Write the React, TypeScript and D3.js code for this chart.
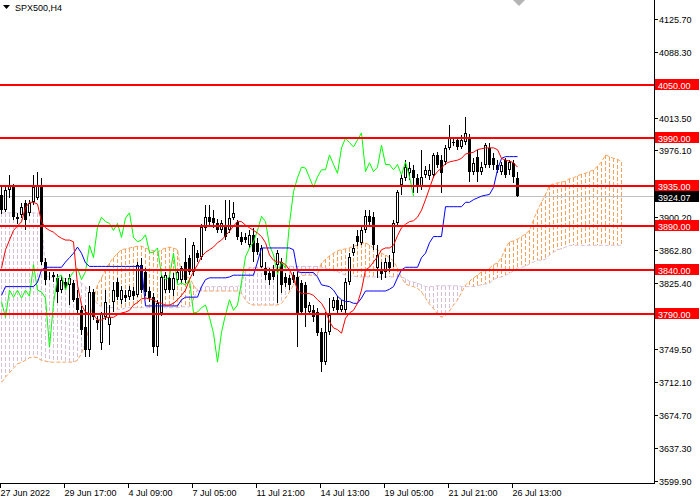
import * as d3 from 'd3';

// SPX500 H4 candles (index = bar number, 4px per bar)
const opens = [
  3925, 3908, 3931, 3934, 3900, 3903, 3916, 3905, 3917, 3922,
  3937, 3849, 3833, 3834, 3831, 3817, 3826, 3823, 3825, 3808,
  3794, 3775, 3749, 3815, 3783, 3757, 3786, 3777, 3804, 3826,
  3806, 3811, 3809, 3816, 3811, 3846, 3838, 3816, 3809, 3752,
  3791, 3817, 3831, 3817, 3829, 3829, 3849, 3854, 3838, 3859,
  3855, 3888, 3900, 3899, 3893, 3885, 3891, 3885, 3899, 3895,
  3877, 3877, 3868, 3880, 3871, 3843, 3842, 3836, 3840, 3846,
  3849, 3832, 3831, 3834, 3832, 3825, 3823, 3792, 3794, 3792,
  3769, 3735, 3769, 3797, 3806, 3794, 3794, 3826, 3859, 3879,
  3871, 3885, 3901, 3900, 3842, 3840, 3838, 3849, 3859, 3893,
  3937, 3945, 3950, 3954, 3945, 3934, 3948, 3947, 3948, 3971,
  3965, 3963, 3979, 3986, 3988, 3980, 3986, 3991, 3952, 3969,
  3952, 3960, 3979, 3967, 3960, 3952, 3965, 3954, 3962, 3945,
];
const closes = [
  3908, 3931, 3936, 3900, 3898, 3912, 3897, 3916, 3934, 3937,
  3849, 3829, 3834, 3832, 3815, 3829, 3821, 3831, 3806, 3794,
  3772, 3749, 3815, 3786, 3780, 3791, 3804, 3786, 3817, 3809,
  3817, 3808, 3817, 3810, 3846, 3817, 3815, 3808, 3752, 3802,
  3832, 3834, 3817, 3831, 3838, 3842, 3829, 3838, 3868, 3854,
  3889, 3900, 3895, 3893, 3885, 3893, 3877, 3899, 3905, 3877,
  3872, 3874, 3880, 3860, 3860, 3865, 3834, 3829, 3832, 3859,
  3823, 3825, 3823, 3829, 3791, 3792, 3797, 3800, 3786, 3768,
  3735, 3769, 3789, 3806, 3794, 3800, 3826, 3855, 3865, 3872,
  3885, 3901, 3895, 3868, 3857, 3835, 3849, 3842, 3893, 3929,
  3945, 3957, 3956, 3945, 3934, 3946, 3954, 3954, 3971, 3960,
  3950, 3979, 3990, 3985, 3980, 3988, 3996, 3952, 3962, 3952,
  3957, 3982, 3960, 3960, 3954, 3960, 3948, 3963, 3946, 3924.07,
];
const highs = [
  3937, 3937, 3948, 3938, 3905, 3916, 3920, 3920, 3948, 3952,
  3945, 3854, 3838, 3838, 3835, 3833, 3831, 3835, 3829, 3817,
  3799, 3800, 3822, 3818, 3788, 3792, 3817, 3800, 3826, 3831,
  3822, 3817, 3822, 3821, 3849, 3854, 3842, 3821, 3814, 3806,
  3834, 3838, 3834, 3837, 3840, 3845, 3876, 3857, 3872, 3863,
  3892, 3914, 3914, 3908, 3898, 3897, 3920, 3920, 3917, 3897,
  3883, 3882, 3885, 3888, 3876, 3868, 3849, 3842, 3846, 3863,
  3854, 3837, 3834, 3838, 3838, 3829, 3826, 3803, 3800, 3797,
  3774, 3792, 3808, 3809, 3810, 3806, 3831, 3859, 3870, 3885,
  3890, 3908, 3908, 3906, 3868, 3849, 3854, 3857, 3897, 3931,
  3948, 3965, 3963, 3960, 3949, 3977, 3958, 3961, 3973, 3974,
  3971, 3982, 4005, 3990, 3991, 3994, 4014, 3995, 3967, 3977,
  3963, 3985, 3985, 3973, 3965, 3963, 3967, 3965, 3965, 3952,
];
const lows = [
  3904, 3906, 3922, 3897, 3892, 3899, 3885, 3901, 3914, 3920,
  3846, 3823, 3829, 3826, 3802, 3814, 3817, 3800, 3804, 3789,
  3766, 3741, 3741, 3783, 3772, 3749, 3783, 3755, 3792, 3806,
  3801, 3804, 3806, 3806, 3809, 3814, 3810, 3804, 3745, 3742,
  3788, 3814, 3814, 3810, 3825, 3825, 3825, 3834, 3833, 3849,
  3851, 3884, 3891, 3888, 3882, 3882, 3874, 3882, 3897, 3874,
  3868, 3871, 3865, 3849, 3857, 3842, 3829, 3823, 3829, 3802,
  3814, 3821, 3817, 3825, 3752, 3789, 3775, 3789, 3781, 3765,
  3724, 3732, 3766, 3793, 3791, 3792, 3791, 3823, 3856, 3867,
  3868, 3882, 3890, 3863, 3831, 3829, 3831, 3838, 3843, 3890,
  3925, 3941, 3942, 3928, 3928, 3931, 3945, 3942, 3945, 3956,
  3928, 3960, 3977, 3981, 3977, 3978, 3982, 3940, 3948, 3940,
  3948, 3956, 3956, 3954, 3950, 3948, 3945, 3948, 3939, 3923,
];

// Ichimoku lines
const tenkan = [
  3842, 3863, 3874, 3885, 3890, 3895, 3911, 3917, 3917, 3915,
  3895, 3888, 3885, 3883, 3879, 3876, 3874, 3874, 3872, 3823,
  3800, 3792, 3790, 3789, 3783, 3783, 3786, 3786, 3786, 3789,
  3791, 3792, 3794, 3800, 3803, 3807, 3808, 3807, 3806, 3803,
  3802, 3800, 3800, 3802, 3806, 3811, 3817, 3829, 3838, 3846,
  3855, 3860, 3863, 3866, 3871, 3874, 3879, 3884, 3890, 3895,
  3895, 3891, 3888, 3885, 3882, 3878, 3871, 3857, 3851, 3849,
  3849, 3846, 3840, 3831, 3817, 3813, 3813, 3813, 3811, 3806,
  3802, 3794, 3781, 3774, 3772, 3768, 3785, 3791, 3794, 3802,
  3817, 3840, 3843, 3849, 3855, 3863, 3865, 3865, 3868, 3879,
  3888, 3892, 3895, 3896, 3900, 3908, 3920, 3933, 3946, 3952,
  3956, 3961, 3963, 3964, 3965, 3967, 3972, 3973, 3974, 3977,
  3978, 3979, 3979, 3979, 3977, 3967, 3965, 3964, 3962, 3957,
];
const kijun = [
  3811, 3821, 3821, 3821, 3821, 3821, 3821, 3821, 3821, 3826,
  3840, 3843, 3843, 3843, 3843, 3843, 3849, 3854, 3859, 3866,
  3859, 3848, 3844, 3844, 3844, 3844, 3844, 3844, 3844, 3844,
  3844, 3844, 3844, 3844, 3844, 3844, 3799, 3799, 3799, 3799,
  3799, 3799, 3799, 3799, 3799, 3806, 3809, 3809, 3809, 3809,
  3821, 3829, 3831, 3831, 3831, 3831, 3831, 3832, 3834, 3834,
  3834, 3834, 3834, 3834, 3849, 3865, 3865, 3865, 3865, 3865,
  3865, 3865, 3865, 3863, 3838, 3837, 3837, 3837, 3837, 3832,
  3823, 3822, 3821, 3817, 3810, 3806, 3804, 3804, 3802, 3802,
  3808, 3816, 3816, 3816, 3816, 3816, 3816, 3818, 3821, 3831,
  3840, 3843, 3843, 3843, 3843, 3854, 3859, 3871, 3878, 3878,
  3878, 3912, 3912, 3912, 3912, 3912, 3917, 3917, 3920, 3922,
  3924, 3925, 3926, 3934, 3954, 3967, 3969, 3969, 3969, 3969,
];
// Senkou spans, already shifted 26 bars forward (156 bars)
const spanA = [
  3712, 3718, 3723, 3728, 3733, 3735, 3737, 3740, 3741, 3740,
  3737, 3736, 3735, 3735, 3735, 3735, 3735, 3735, 3735, 3737,
  3745, 3757, 3777, 3806, 3823, 3831, 3840, 3848, 3854, 3859,
  3863, 3864, 3865, 3866, 3867, 3867, 3865, 3863, 3862, 3860,
  3863, 3865, 3866, 3865, 3863, 3834, 3832, 3831, 3823, 3816,
  3816, 3816, 3816, 3816, 3816, 3816, 3816, 3816, 3816, 3816,
  3813, 3806, 3801, 3800, 3800, 3800, 3800, 3800, 3800, 3800,
  3802, 3808, 3815, 3823, 3831, 3834, 3834, 3834, 3834, 3834,
  3848, 3852, 3856, 3859, 3862, 3863, 3864, 3865, 3867, 3868,
  3870, 3871, 3868, 3865, 3863, 3859, 3857, 3854, 3850, 3842,
  3831, 3824, 3822, 3821, 3819, 3815, 3808, 3801, 3796, 3790,
  3786, 3788, 3793, 3800, 3806, 3814, 3823, 3827, 3831, 3834,
  3838, 3840, 3842, 3846, 3848, 3854, 3865, 3872, 3873, 3875,
  3878, 3881, 3885, 3897, 3908, 3917, 3926, 3936, 3938, 3939,
  3940, 3941, 3944, 3945, 3947, 3949, 3950, 3952, 3954, 3958,
  3963, 3971, 3969, 3967, 3966, 3963,
];
const spanB = [
  3905, 3905, 3905, 3905, 3905, 3905, 3905, 3905, 3905, 3905,
  3904, 3833, 3832, 3831, 3831, 3831, 3830, 3829, 3829, 3827,
  3825, 3821, 3815, 3808, 3801, 3798, 3797, 3797, 3797, 3795,
  3795, 3797, 3797, 3797, 3797, 3797, 3797, 3797, 3797, 3797,
  3797, 3797, 3797, 3797, 3797, 3798, 3798, 3798, 3806, 3818,
  3821, 3821, 3821, 3821, 3821, 3821, 3821, 3821, 3821, 3821,
  3824, 3839, 3843, 3843, 3843, 3843, 3843, 3843, 3843, 3843,
  3843, 3843, 3844, 3844, 3844, 3844, 3844, 3844, 3844, 3844,
  3843, 3842, 3840, 3839, 3838, 3836, 3834, 3833, 3833, 3832,
  3832, 3832, 3832, 3832, 3832, 3832, 3832, 3832, 3832, 3832,
  3832, 3830, 3827, 3826, 3825, 3823, 3821, 3821, 3821, 3822,
  3822, 3822, 3822, 3822, 3822, 3821, 3821, 3821, 3821, 3822,
  3823, 3824, 3825, 3829, 3831, 3832, 3834, 3836, 3839, 3842,
  3843, 3844, 3847, 3849, 3851, 3851, 3852, 3857, 3860, 3863,
  3864, 3866, 3868, 3868, 3868, 3868, 3868, 3868, 3868, 3868,
  3868, 3868, 3868, 3868, 3868, 3868,
];

const levels = [4050, 3990, 3935, 3890, 3840, 3790];
const bid = 3924.07;
const priceTicks = [
  4125.7, 4088.3, 4050.9, 4013.5, 3976.1, 3938.7, 3900.2, 3862.8,
  3825.4, 3787.9, 3749.5, 3712.1, 3674.7, 3637.3, 3599.9,
];
// ticks whose text is hidden behind the level labels
const hiddenTickLabels = [4050.9, 3938.7, 3787.9];
const timeLabels = [
  '27 Jun 2022', '29 Jun 17:00', '4 Jul 09:00', '7 Jul 05:00', '11 Jul 21:00',
  '14 Jul 13:00', '19 Jul 05:00', '21 Jul 21:00', '26 Jul 13:00',
];
const timeLabelBars = [0, 16, 32, 48, 64, 80, 96, 112, 128];

const CHIKOU_SHIFT = 26;
const PLOT_R = 654;
const PLOT_B = 483;
const FONT = '"Liberation Sans", Arial, sans-serif';
const SANDY = '#F4A460';
const THISTLE = '#D8BFD8';

export default function App() {
  // 4 px per bar, bar centres on half pixels
  const x = d3.scaleLinear().domain([0, 1]).range([1.5, 5.5]);
  const y = d3.scaleLinear().domain([3599.9, 4125.7]).range([480.8, 19]);
  const ry = (v: number) => Math.round(y(v));

  const line = d3
    .line<number>()
    .x((_, i) => x(i))
    .y((d) => y(d));

  const chikou = closes.slice(CHIKOU_SHIFT);

  // dotted histogram between the spans, one column per bar
  const hatch: { x: number; y: number; h: number; c: string }[] = [];
  spanA.forEach((a, i) => {
    const b = spanB[i];
    const top = ry(Math.max(a, b));
    const bot = ry(Math.min(a, b));
    const c = a >= b ? SANDY : THISTLE;
    for (let yy = top; yy < bot; yy += 6) {
      hatch.push({ x: Math.floor(x(i)), y: yy, h: Math.min(4, bot - yy), c });
    }
  });

  return (
    <svg
      width={700}
      height={500}
      style={{ position: 'absolute', left: 0, top: 0, background: '#fff' }}
      fontFamily={FONT}
    >
      <defs>
        <clipPath id="plot">
          <rect x={0} y={0} width={PLOT_R} height={PLOT_B} />
        </clipPath>
      </defs>
      <rect x={0} y={0} width={700} height={500} fill="#fff" />

      <g clipPath="url(#plot)">
        {/* cloud */}
        <g shapeRendering="crispEdges">
          {hatch.map((d, k) => (
            <rect key={k} x={d.x} y={d.y} width={1} height={d.h} fill={d.c} />
          ))}
        </g>
        <path d={line(spanA) ?? ''} fill="none" stroke={SANDY} strokeDasharray="4,2" />
        <path d={line(spanB) ?? ''} fill="none" stroke={THISTLE} strokeDasharray="4,2" />

        {/* bid line */}
        <line x1={0} x2={PLOT_R} y1={ry(bid) + 0.5} y2={ry(bid) + 0.5} stroke="#C0C0C0" />

        {/* candles */}
        <g shapeRendering="crispEdges">
          {opens.map((o, i) => {
            const c = closes[i];
            const cx = x(i);
            const top = ry(Math.max(o, c));
            const bot = ry(Math.min(o, c));
            const bull = c > o;
            return (
              <g key={i}>
                <line x1={cx} x2={cx} y1={ry(highs[i])} y2={ry(lows[i])} stroke="#000" />
                {bull ? (
                  <rect x={cx - 1} y={top + 0.5} width={2} height={Math.max(bot - top - 1, 0)} fill="#fff" stroke="#000" />
                ) : (
                  <rect x={cx - 1.5} y={top} width={3} height={Math.max(bot - top, 1)} fill="#000" />
                )}
              </g>
            );
          })}
        </g>

        {/* ichimoku lines */}
        <path d={line(chikou) ?? ''} fill="none" stroke="#00FF00" />
        <path d={line(kijun) ?? ''} fill="none" stroke="#0000FF" />
        <path d={line(tenkan) ?? ''} fill="none" stroke="#FF0000" />

        {/* level lines */}
        {levels.map((lv) => (
          <line key={lv} x1={0} x2={PLOT_R} y1={ry(lv)} y2={ry(lv)} stroke="#FF0000" strokeWidth={2} />
        ))}
      </g>

      {/* title */}
      <path d="M3,5 L10,5 L6.5,9 Z" fill="#000" />
      <text x={15} y={11} fontSize={9} fill="#000">SPX500,H4</text>
      <path d="M513,0 L525,0 L519,6 Z" fill="#B4B4B4" />

      {/* axes */}
      <g shapeRendering="crispEdges">
        <line x1={PLOT_R + 0.5} x2={PLOT_R + 0.5} y1={0} y2={PLOT_B + 1} stroke="#000" />
        <line x1={0} x2={PLOT_R + 1} y1={PLOT_B + 0.5} y2={PLOT_B + 0.5} stroke="#000" />
        {priceTicks.map((t) => (
          <line key={t} x1={PLOT_R + 1} x2={PLOT_R + 4} y1={ry(t) + 0.5} y2={ry(t) + 0.5} stroke="#000" />
        ))}
        {timeLabelBars.map((b) => (
          <line key={b} x1={x(b) - 1} x2={x(b) - 1} y1={PLOT_B} y2={PLOT_B + 5} stroke="#000" />
        ))}
      </g>
      {priceTicks
        .filter((t) => !hiddenTickLabels.includes(t))
        .map((t) => (
          <text key={t} x={659} y={ry(t) + 4} fontSize={9} fill="#000">
            {t.toFixed(2)}
          </text>
        ))}
      {timeLabels.map((lab, k) => (
        <text key={lab} x={x(timeLabelBars[k]) - 1} y={496} fontSize={9} fill="#000">
          {lab}
        </text>
      ))}

      {/* price labels */}
      {levels.map((lv) => (
        <g key={lv}>
          <rect x={655} y={ry(lv) - 6} width={44} height={11} fill="#FF0000" />
          <text x={658} y={ry(lv) + 3.5} fontSize={9} fill="#fff">
            {lv.toFixed(2)}
          </text>
        </g>
      ))}
      <rect x={655} y={ry(bid) - 5} width={44} height={11} fill="#000" />
      <text x={658} y={ry(bid) + 4.5} fontSize={9} fill="#fff">
        {bid.toFixed(2)}
      </text>
    </svg>
  );
}
